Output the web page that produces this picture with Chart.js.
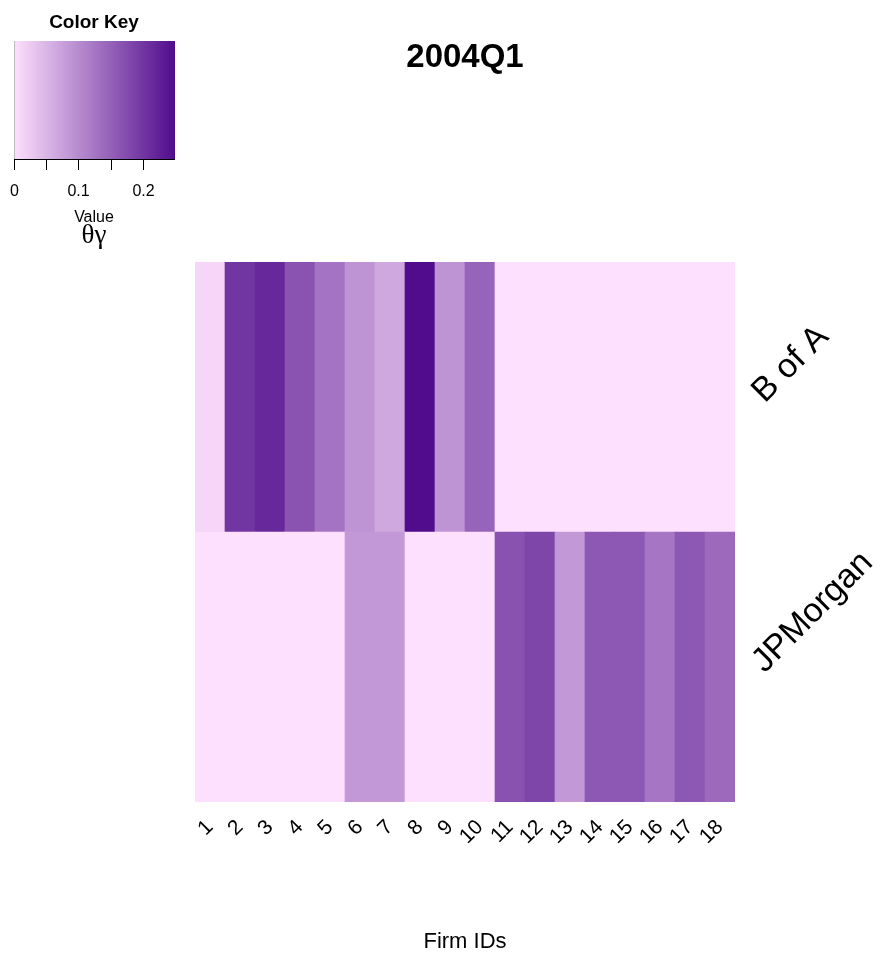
<!DOCTYPE html>
<html>
<head>
<meta charset="utf-8">
<script src="https://cdn.jsdelivr.net/npm/chart.js@4"></script>
<style>
  html, body { margin: 0; padding: 0; background: #ffffff; }
  canvas { display: block; }
</style>
</head>
<body>
<canvas id="c" width="888" height="954"></canvas>
<script>
// ---- data ----
const firmIds = ['1','2','3','4','5','6','7','8','9','10','11','12','13','14','15','16','17','18'];
const rowNames = ['B of A', 'JPMorgan'];
const bofaValues = [0.012, 0.200, 0.217, 0.166, 0.128, 0.090, 0.066, 0.250, 0.090, 0.146, 0, 0, 0, 0, 0, 0, 0, 0];
const jpmValues  = [0, 0, 0, 0, 0, 0.085, 0.085, 0, 0, 0, 0.167, 0.182, 0.085, 0.161, 0.161, 0.125, 0.161, 0.140];
const keyTicks = [0, 0.05, 0.1, 0.15, 0.2];
const keyTickLabels = ['0', '', '0.1', '', '0.2'];
const keyMax = 0.25;
const title = '2004Q1';
const xTitle = 'Firm IDs';

// ---- colour ramp ----
const rampStops = [[0, [253, 224, 253]], [0.5, [166, 118, 196]], [1, [80, 12, 140]]];
function rampColor(v) {
  let t = Math.max(0, Math.min(1, v / keyMax));
  for (let i = 0; i < rampStops.length - 1; i++) {
    const [t0, c0] = rampStops[i], [t1, c1] = rampStops[i + 1];
    if (t <= t1) {
      const f = (t - t0) / (t1 - t0);
      const c = c0.map((x, k) => Math.round(x + (c1[k] - x) * f));
      return `rgb(${c[0]},${c[1]},${c[2]})`;
    }
  }
  const c = rampStops[rampStops.length - 1][1];
  return `rgb(${c[0]},${c[1]},${c[2]})`;
}

const SANS = '"Liberation Sans", Arial, Helvetica, sans-serif';

const decor = {
  id: 'decor',
  afterDraw(chart) {
    const ctx = chart.ctx;
    const xs = chart.scales.x, ys = chart.scales.y;
    const area = chart.chartArea;
    ctx.save();
    ctx.fillStyle = '#000';
    // title
    ctx.font = 'bold 33px ' + SANS;
    ctx.textAlign = 'center';
    ctx.textBaseline = 'middle';
    ctx.fillText(title, (area.left + area.right) / 2, 58);
    // x title
    ctx.font = '22px ' + SANS;
    ctx.fillText(xTitle, (area.left + area.right) / 2, 942);

    // column labels
    ctx.font = '21px ' + SANS;
    firmIds.forEach((id, i) => {
      const cx = xs.getPixelForValue(i);
      ctx.save();
      ctx.translate(cx, 824);
      ctx.rotate(-Math.PI / 4);
      ctx.textAlign = 'right';
      ctx.textBaseline = 'middle';
      ctx.fillText(id, 0, 0);
      ctx.restore();
    });

    // row labels
    ctx.font = '34px ' + SANS;
    const rowCenters = [ys.getPixelForValue(1.5), ys.getPixelForValue(0.5)];
    rowNames.forEach((n, i) => {
      ctx.save();
      ctx.translate(area.right + 23, rowCenters[i]);
      ctx.rotate(-Math.PI / 4);
      ctx.textAlign = 'left';
      ctx.textBaseline = 'middle';
      ctx.fillText(n, 0, 0);
      ctx.restore();
    });

    // colour key
    const kx0 = 14, kx1 = 175, ky0 = 41, ky1 = 159;
    const g = ctx.createLinearGradient(kx0, 0, kx1, 0);
    for (let s = 0; s <= 20; s++) g.addColorStop(s / 20, rampColor(keyMax * s / 20));
    ctx.fillStyle = g;
    ctx.fillRect(kx0, ky0, kx1 - kx0, ky1 - ky0);
    ctx.strokeStyle = '#000';
    ctx.lineWidth = 1;
    ctx.beginPath();
    ctx.moveTo(kx0, ky1 + 0.5); ctx.lineTo(kx1, ky1 + 0.5);
    ctx.stroke();
    ctx.strokeStyle = '#bbbbbb';
    ctx.beginPath();
    ctx.moveTo(kx0 + 0.5, ky0); ctx.lineTo(kx0 + 0.5, ky1);
    ctx.stroke();
    ctx.strokeStyle = '#000';
    ctx.fillStyle = '#000';
    ctx.font = '16px ' + SANS;
    ctx.textAlign = 'center';
    ctx.textBaseline = 'middle';
    keyTicks.forEach((v, i) => {
      const px = Math.round(kx0 + (kx1 - kx0) * v / keyMax) + 0.5;
      ctx.beginPath();
      ctx.moveTo(px, ky1); ctx.lineTo(px, ky1 + 11);
      ctx.stroke();
      if (keyTickLabels[i]) ctx.fillText(keyTickLabels[i], px, 192);
    });
    ctx.font = 'bold 19px ' + SANS;
    ctx.fillText('Color Key', 94, 23);
    ctx.font = '16px ' + SANS;
    ctx.fillText('Value', 94, 218);
    ctx.font = '27px "Liberation Serif", "DejaVu Serif", serif';
    ctx.fillText('θγ', 94, 236);
    ctx.restore();
  }
};

new Chart(document.getElementById('c'), {
  type: 'bar',
  data: {
    labels: firmIds,
    datasets: [
      { label: rowNames[1], data: jpmValues.map(() => 1), backgroundColor: jpmValues.map(rampColor), stack: 's' },
      { label: rowNames[0], data: bofaValues.map(() => 1), backgroundColor: bofaValues.map(rampColor), stack: 's' }
    ]
  },
  options: {
    responsive: false,
    devicePixelRatio: 1,
    animation: false,
    layout: { padding: { left: 195, right: 153, top: 262, bottom: 152 } },
    datasets: { bar: { barPercentage: 1, categoryPercentage: 1, borderWidth: 0, borderSkipped: false } },
    scales: {
      x: { stacked: true, display: false, offset: true },
      y: { stacked: true, display: false, min: 0, max: 2 }
    },
    plugins: { legend: { display: false }, tooltip: { enabled: false }, title: { display: false } }
  },
  plugins: [decor]
});
</script>
</body>
</html>
